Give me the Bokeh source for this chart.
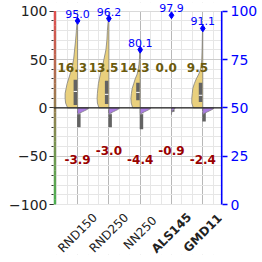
import math
from bokeh.plotting import figure
from bokeh.models import Range1d, LinearAxis, FixedTicker, Span
from bokeh.core.properties import value
from bokeh.embed import file_html
from bokeh.resources import INLINE

# ---------------- data ----------------
categories = ["RND150", "RND250", "NN250", "ALS145", "GMD11"]
bold_categories = ["ALS145", "GMD11"]
max_pct = [95.0, 96.2, 80.1, 97.9, 91.1]          # right axis (%)
mean_pos = [16.3, 13.5, 14.3, 0.0, 9.5]
mean_neg = [-3.9, -3.0, -4.4, -0.9, -2.4]
left_ticks = [-100, -50, 0, 50, 100]
right_ticks = [0, 25, 50, 75, 100]

# positive half-violin profiles (density)
pos_levels = [0, 5, 10, 15, 20, 25, 30, 35, 40, 45, 50, 60, 70, 80, 90]
dens_rnd150 = [10, 12, 12.5, 12.5, 11.5, 10.5, 9, 7.5, 6, 5, 4, 3, 2, 1.2, 0.5]
dens_rnd250 = [10, 11.5, 11.8, 11.5, 11, 10.5, 9.5, 8.5, 7.5, 6, 5, 3, 2, 1.5, 0.7]
dens_nn250 = [7.5, 9, 9.3, 8.8, 8, 6.5, 5, 3, 2, 1.2, 0.8, 0.3, 0, 0, 0]
dens_als145 = [0] * 15
dens_gmd11 = [9.5, 11, 11, 10.5, 10, 8.5, 6.5, 4, 2.2, 1.5, 1, 0.7, 0.5, 0.3, 0]
pos_density = [dens_rnd150, dens_rnd250, dens_nn250, dens_als145, dens_gmd11]

# negative half-violin profiles
neg_levels = [0, -1, -2, -3, -4, -5, -6, -7]
neg_rnd150 = [11, 10.5, 9, 7, 5, 3, 1.2, 0]
neg_rnd250 = [10.5, 10, 8.5, 6.5, 4.5, 2.5, 1, 0]
neg_nn250 = [10.5, 10, 8.5, 6.5, 4.5, 2.5, 1, 0]
neg_als145 = [4, 3, 2, 1.2, 0.6, 0.3, 0, 0]
neg_gmd11 = [11, 10.5, 9, 7, 5, 3, 1.2, 0]
neg_density = [neg_rnd150, neg_rnd250, neg_nn250, neg_als145, neg_gmd11]

# box plots (q1, median, q3)
pos_q1 = [3, 4, 8, 0, 6]
pos_med = [17, 14, 16, 0, 13]
pos_q3 = [29, 28, 26, 0, 26]
neg_q1 = [-20, -20, -22, -4, -14]
neg_med = [-6, -6, -6, -1.5, -4]
neg_q3 = [-3, -2, -1, -0.5, -1]

# ---------------- styling ----------------
PX = 1 / 31.3  # data units per pixel (x)
FONT = "DejaVu Sans"
YELLOW = "#e9d07d"
PURPLE = "#ab7de3"
BOXC = "#636363"
X0, X1 = -0.77, 4.63
Y0, Y1 = -151.7, 109
YLO, YHI = -100, 100

p = figure(width=260, height=258, output_backend="svg", toolbar_location=None,
           x_range=Range1d(X0, X1), y_range=Range1d(Y0, Y1),
           min_border_left=53, min_border_right=37, min_border_top=2, min_border_bottom=4)
p.outline_line_color = None
p.background_fill_color = "white"
p.xaxis.visible = False

# grids
p.xgrid.ticker = FixedTicker(ticks=list(range(len(categories))),
                             minor_ticks=[i + d for i in range(-1, 6) for d in (1/3, 2/3)])
p.xgrid.grid_line_color = "#b8b8b8"
p.xgrid.minor_grid_line_color = "#e6e6e6"
p.ygrid.ticker = FixedTicker(ticks=left_ticks, minor_ticks=list(range(-100, 101, 10)))
p.ygrid.grid_line_color = "#cccccc"
p.ygrid.minor_grid_line_color = "#e6e6e6"

# mask grid outside the value range
p.quad(left=X0, right=X1, bottom=YHI, top=Y1, fill_color="white", line_color=None)
p.quad(left=X0, right=X1, bottom=Y0, top=YLO, fill_color="white", line_color=None)

# left axis
ya = p.yaxis[0]
ya.ticker = FixedTicker(ticks=left_ticks, minor_ticks=list(range(-100, 101, 10)))
ya.major_label_overrides = {-100: "\u2212100", -50: "\u221250"}
ya.axis_line_color = None
ya.major_tick_out = 4
ya.major_tick_in = 0
ya.minor_tick_out = 2
ya.minor_tick_in = 0
ya.major_tick_line_color = "#333333"
ya.minor_tick_line_color = "#333333"
ya.major_label_text_font = FONT
ya.major_label_text_font_size = "14px"
ya.major_label_text_color = "#222222"
ya.major_label_standoff = 2

# right axis
p.extra_y_ranges = {"pct": Range1d((Y0 + 100) / 2, (Y1 + 100) / 2)}
ra = LinearAxis(y_range_name="pct", ticker=FixedTicker(ticks=right_ticks))
ra.axis_line_color = None
ra.major_tick_line_color = "blue"
ra.major_tick_line_width = 1.5
ra.major_tick_out = 5
ra.major_tick_in = 0
ra.minor_tick_line_color = None
ra.major_label_text_color = "blue"
ra.major_label_text_font = FONT
ra.major_label_text_font_size = "14px"
ra.major_label_standoff = 3
p.add_layout(ra, "right")
p.segment(x0=X1, x1=X1, y0=YLO, y1=YHI, line_color="blue", line_width=3.2)

# gradient band along left axis
nseg = 40
for k in range(nseg):
    t = k / (nseg - 1)
    r = int(224 * t + 76 * (1 - t))
    g = int(80 * t + 175 * (1 - t))
    lo = YLO + (YHI - YLO) * k / nseg
    p.quad(left=X0, right=X0 + 2.6 * PX, bottom=lo, top=lo + (YHI - YLO) / nseg + 0.3,
           fill_color=(r, g, 80), line_color=None)

# violins
for i, cat in enumerate(categories):
    ymax = 2 * max_pct[i] - 100
    dens = pos_density[i]
    if max(dens) > 0:
        xs, ys = [], []
        for lv, d in zip(pos_levels, dens):
            if lv <= ymax:
                xs.append(i - d * PX)
                ys.append(lv)
        xs += [i, i]
        ys += [ymax, 0]
        p.patch(xs, ys, fill_color=YELLOW, line_color="#808080", line_width=0.8)

# boxes
for i in range(len(categories)):
    if pos_q3[i] > pos_q1[i]:
        p.quad(left=i - 4 * PX, right=i - 0.5 * PX, bottom=pos_q1[i], top=pos_q3[i],
               fill_color=BOXC, line_color=None)
        p.segment(x0=i - 4 * PX, x1=i - 0.5 * PX, y0=pos_med[i], y1=pos_med[i],
                  line_color="white", line_width=1)
    p.segment(x0=i + 1.2 * PX, x1=i + 1.2 * PX, y0=0, y1=neg_q3[i],
              line_color="#777777", line_width=1.5)
    p.quad(left=i - 0.5 * PX, right=i + 3 * PX, bottom=neg_q1[i], top=neg_q3[i],
           fill_color=BOXC, line_color=None)
    p.segment(x0=i - 0.5 * PX, x1=i + 3 * PX, y0=neg_med[i], y1=neg_med[i],
              line_color="white", line_width=1)

p.add_layout(Span(location=0, dimension="width", line_color="#222222", line_width=1.2))

# negative half-violins drawn on top
for i in range(len(categories)):
    nd = neg_density[i]
    xs = [i + d * PX for d in nd] + [i]
    ys = list(neg_levels) + [0]
    p.patch(xs, ys, fill_color=PURPLE, line_color="#7a7a7a", line_width=0.7)

idx = list(range(len(categories)))

# max markers and labels
p.scatter(idx, max_pct, y_range_name="pct", marker="diamond", size=7, color="blue")
p.text(idx, max_pct, text=[f"{v:.1f}" for v in max_pct], y_range_name="pct",
       y_offset=-3, text_align="center", text_baseline="bottom",
       text_font=value(FONT), text_font_size="11px", text_color="blue")

# mean labels
p.text([i - 0.17 for i in idx], [41.7] * len(idx), text=[f"{v:.1f}" for v in mean_pos],
       text_align="center", text_baseline="middle", text_font=value(FONT),
       text_font_size="12px", text_font_style="bold", text_color="#6b5a0c")
p.text(idx, [-53.5 if i % 2 == 0 else -43.7 for i in idx], text=[f"{v:.1f}" for v in mean_neg],
       text_align="center", text_baseline="middle", text_font=value(FONT),
       text_font_size="12px", text_font_style="bold", text_color="#990000")

# category labels (rotated)
p.text(idx, [-129.5] * len(idx), text=categories, angle=math.pi / 4,
       text_align="center", text_baseline="middle", text_font=value(FONT),
       text_font_size="12px",
       text_font_style=["bold" if c in bold_categories else "normal" for c in categories],
       text_color="#222222")

open("out.html", "w").write(file_html(p, INLINE))
